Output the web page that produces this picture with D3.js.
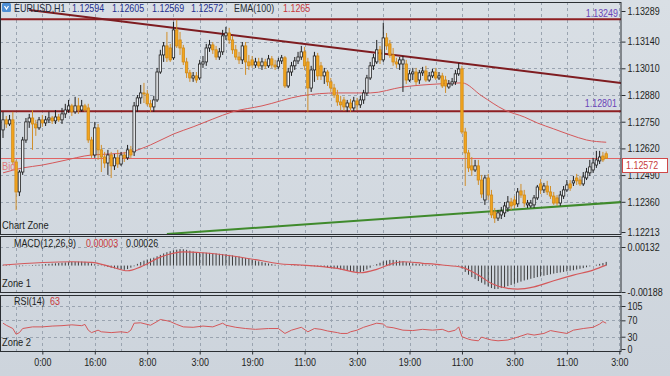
<!DOCTYPE html>
<html>
<head>
<meta charset="utf-8">
<script src="https://cdn.jsdelivr.net/npm/d3@7"></script>
<style>
  body { margin: 0; background: #d2d8df; }
  svg text { font-family: "Liberation Sans", Arial, sans-serif; }
</style>
</head>
<body>
<div id="chart"></div>
<script>
// EURUSD H1 candles (oldest first)
const opens = [
  1.12710,1.12759,1.12739,1.12759,1.12554,1.12408,1.12505,1.12661,1.12749,1.12768,
  1.12739,1.12720,1.12759,1.12744,1.12759,1.12768,1.12754,1.12773,1.12759,1.12788,
  1.12807,1.12827,1.12798,1.12827,1.12807,1.12827,1.12817,1.12661,1.12588,1.12720,
  1.12613,1.12578,1.12549,1.12588,1.12535,1.12574,1.12544,1.12588,1.12574,1.12613,
  1.12603,1.12827,1.12866,1.12890,1.12885,1.12837,1.12822,1.12856,1.12992,1.13075,
  1.13119,1.13109,1.13061,1.13197,1.13148,1.13109,1.13041,1.12988,1.12963,1.12973,
  1.12963,1.13031,1.13041,1.13109,1.13124,1.13100,1.13065,1.13090,1.13168,1.13182,
  1.13148,1.13100,1.13065,1.13051,1.13119,1.13041,1.13051,1.13026,1.13041,1.13022,
  1.13041,1.13022,1.13056,1.13026,1.13017,1.13046,1.13061,1.12924,1.12992,1.13022,
  1.13046,1.13065,1.13090,1.13041,1.12914,1.13002,1.13070,1.13022,1.12973,1.12992,
  1.12944,1.12914,1.12880,1.12846,1.12856,1.12822,1.12841,1.12817,1.12851,1.12832,
  1.12856,1.12890,1.12963,1.13022,1.13041,1.13100,1.13051,1.13158,1.13129,1.13075,
  1.13041,1.13031,1.13031,1.13031,1.12953,1.12983,1.12992,1.12953,1.12988,1.12997,
  1.12953,1.12973,1.12992,1.12963,1.12973,1.12953,1.12919,1.12934,1.12944,1.12983,
  1.13007,1.12700,1.12598,1.12535,1.12515,1.12535,1.12466,1.12369,1.12476,1.12393,
  1.12311,1.12281,1.12296,1.12306,1.12330,1.12359,1.12369,1.12350,1.12413,1.12393,
  1.12345,1.12340,1.12345,1.12379,1.12447,1.12418,1.12437,1.12408,1.12388,1.12379,
  1.12354,1.12388,1.12418,1.12447,1.12452,1.12476,1.12466,1.12447,1.12476,1.12501,
  1.12515,1.12539,1.12559,1.12583,1.12594
];
const highs = [
  1.12798,1.12778,1.12783,1.12798,1.12564,1.12515,1.12676,1.12768,1.12788,1.12807,
  1.12759,1.12773,1.12783,1.12778,1.12798,1.12778,1.12807,1.12788,1.12817,1.12837,
  1.12856,1.12837,1.12871,1.12866,1.12856,1.12837,1.12837,1.12676,1.12749,1.12739,
  1.12637,1.12603,1.12613,1.12603,1.12593,1.12613,1.12603,1.12603,1.12637,1.12632,
  1.12846,1.12880,1.12929,1.12939,1.12905,1.12856,1.12876,1.13012,1.13100,1.13138,
  1.13187,1.13129,1.13236,1.13246,1.13187,1.13124,1.13061,1.13002,1.12992,1.12992,
  1.13051,1.13070,1.13129,1.13148,1.13138,1.13119,1.13109,1.13197,1.13212,1.13207,
  1.13168,1.13124,1.13090,1.13138,1.13138,1.13075,1.13070,1.13061,1.13061,1.13061,
  1.13056,1.13075,1.13070,1.13051,1.13061,1.13075,1.13070,1.13012,1.13041,1.13065,
  1.13090,1.13119,1.13114,1.13061,1.13022,1.13090,1.13085,1.13041,1.13012,1.13002,
  1.12963,1.12934,1.12905,1.12876,1.12871,1.12856,1.12861,1.12871,1.12866,1.12876,
  1.12905,1.12978,1.13041,1.13080,1.13148,1.13119,1.13231,1.13182,1.13148,1.13109,
  1.13061,1.13065,1.13070,1.13051,1.13002,1.13012,1.13012,1.13002,1.13017,1.13022,
  1.12992,1.13007,1.13012,1.12992,1.12988,1.12973,1.12953,1.12963,1.13002,1.13036,
  1.13022,1.12720,1.12613,1.12578,1.12564,1.12564,1.12491,1.12491,1.12496,1.12418,
  1.12330,1.12320,1.12335,1.12359,1.12388,1.12379,1.12388,1.12427,1.12447,1.12418,
  1.12369,1.12369,1.12393,1.12442,1.12471,1.12452,1.12462,1.12437,1.12408,1.12393,
  1.12413,1.12437,1.12466,1.12466,1.12486,1.12496,1.12486,1.12505,1.12525,1.12564,
  1.12574,1.12608,1.12608,1.12603,1.12605
];
const lows = [
  1.12671,1.12720,1.12729,1.12539,1.12320,1.12388,1.12491,1.12647,1.12720,1.12613,
  1.12681,1.12710,1.12725,1.12729,1.12744,1.12739,1.12739,1.12749,1.12739,1.12768,
  1.12793,1.12778,1.12788,1.12788,1.12798,1.12798,1.12647,1.12574,1.12574,1.12564,
  1.12505,1.12525,1.12491,1.12476,1.12515,1.12525,1.12535,1.12554,1.12564,1.12574,
  1.12583,1.12798,1.12837,1.12841,1.12827,1.12798,1.12798,1.12846,1.12983,1.13041,
  1.13041,1.13041,1.13051,1.13109,1.13075,1.13026,1.12963,1.12944,1.12944,1.12939,
  1.12953,1.13012,1.13022,1.13090,1.13080,1.13051,1.13051,1.13075,1.13148,1.13129,
  1.13080,1.13051,1.13031,1.13031,1.12978,1.13002,1.13012,1.13012,1.13012,1.13002,
  1.13007,1.13012,1.13012,1.13002,1.13007,1.13031,1.12914,1.12914,1.12973,1.13002,
  1.13031,1.13051,1.13002,1.12798,1.12895,1.12944,1.12953,1.12953,1.12934,1.12924,
  1.12895,1.12866,1.12827,1.12807,1.12802,1.12798,1.12798,1.12802,1.12807,1.12817,
  1.12837,1.12876,1.12953,1.13002,1.13031,1.13031,1.13041,1.13100,1.13061,1.13022,
  1.13012,1.13002,1.12895,1.12934,1.12944,1.12953,1.12929,1.12934,1.12973,1.12944,
  1.12944,1.12963,1.12953,1.12953,1.12914,1.12890,1.12910,1.12924,1.12929,1.12973,
  1.12690,1.12437,1.12505,1.12486,1.12505,1.12442,1.12379,1.12345,1.12369,1.12281,
  1.12257,1.12267,1.12276,1.12286,1.12311,1.12320,1.12330,1.12335,1.12379,1.12335,
  1.12330,1.12330,1.12330,1.12369,1.12398,1.12403,1.12393,1.12374,1.12345,1.12340,
  1.12340,1.12374,1.12408,1.12413,1.12437,1.12442,1.12437,1.12437,1.12466,1.12486,
  1.12501,1.12525,1.12544,1.12554,1.12569
];
const closes = [
  1.12759,1.12739,1.12759,1.12554,1.12408,1.12505,1.12661,1.12749,1.12768,1.12739,
  1.12720,1.12759,1.12744,1.12759,1.12768,1.12754,1.12773,1.12759,1.12788,1.12807,
  1.12827,1.12798,1.12827,1.12807,1.12827,1.12807,1.12661,1.12588,1.12720,1.12613,
  1.12578,1.12549,1.12588,1.12535,1.12574,1.12544,1.12588,1.12574,1.12613,1.12588,
  1.12827,1.12866,1.12890,1.12885,1.12837,1.12822,1.12856,1.12992,1.13075,1.13119,
  1.13061,1.13051,1.13197,1.13119,1.13109,1.13041,1.12988,1.12963,1.12973,1.12953,
  1.13031,1.13041,1.13109,1.13124,1.13100,1.13065,1.13090,1.13168,1.13182,1.13148,
  1.13100,1.13065,1.13051,1.13119,1.13041,1.13022,1.13026,1.13041,1.13022,1.13041,
  1.13022,1.13056,1.13026,1.13017,1.13046,1.13061,1.12924,1.12992,1.13022,1.13046,
  1.13065,1.13090,1.13022,1.12914,1.13002,1.13070,1.12973,1.12973,1.12992,1.12944,
  1.12914,1.12880,1.12846,1.12832,1.12822,1.12841,1.12817,1.12851,1.12832,1.12856,
  1.12890,1.12963,1.13022,1.13061,1.13100,1.13051,1.13158,1.13119,1.13075,1.13041,
  1.13031,1.13051,1.13051,1.12953,1.12983,1.12992,1.12944,1.12988,1.12997,1.12953,
  1.12973,1.12992,1.12963,1.12973,1.12924,1.12924,1.12934,1.12944,1.12983,1.13007,
  1.12700,1.12598,1.12525,1.12515,1.12535,1.12466,1.12398,1.12476,1.12393,1.12296,
  1.12281,1.12306,1.12315,1.12340,1.12359,1.12340,1.12345,1.12408,1.12393,1.12354,
  1.12354,1.12354,1.12379,1.12432,1.12418,1.12437,1.12408,1.12388,1.12354,1.12354,
  1.12393,1.12418,1.12442,1.12427,1.12462,1.12462,1.12447,1.12481,1.12505,1.12530,
  1.12549,1.12564,1.12578,1.12564,1.12572
];

// EMA(100), read at selected bars
const emaBars = [0,6,12,18,27,33,39,45,52,58,64,70,79,91,102,112,122,133,140,146,153,159,163,168,173,178,184];
const emaValues = [1.12501,1.12525,1.12539,1.12559,1.12588,1.12593,1.12603,1.12637,1.12690,1.12725,1.12763,1.12798,
  1.12827,1.12876,1.12890,1.12890,1.12919,1.12934,1.12939,1.12876,1.12807,1.12773,1.12744,1.12715,1.12686,1.12661,1.12650];

// MACD(12,26,9) histogram, one per bar
const macdHist = [
  0.00005,0.00004,0.00002,0.00000,-0.00004,-0.00006,-0.00004,-0.00002,0.00002,0.00004,
  0.00005,0.00006,0.00008,0.00010,0.00012,0.00014,0.00016,0.00018,0.00020,0.00022,
  0.00024,0.00026,0.00027,0.00028,0.00028,0.00027,0.00022,0.00015,0.00010,0.00006,
  0.00002,-0.00005,-0.00010,-0.00015,-0.00020,-0.00024,-0.00028,-0.00030,-0.00025,-0.00015,
  -0.00005,0.00012,0.00025,0.00035,0.00043,0.00050,0.00056,0.00066,0.00076,0.00086,
  0.00095,0.00102,0.00108,0.00113,0.00117,0.00116,0.00112,0.00106,0.00100,0.00096,
  0.00094,0.00092,0.00091,0.00090,0.00088,0.00086,0.00084,0.00082,0.00080,0.00076,
  0.00072,0.00068,0.00064,0.00060,0.00054,0.00048,0.00042,0.00036,0.00030,0.00025,
  0.00020,0.00015,0.00010,0.00006,0.00003,0.00001,-0.00002,0.00000,0.00002,0.00003,
  0.00004,0.00004,0.00003,-0.00002,-0.00004,-0.00005,-0.00006,-0.00008,-0.00010,-0.00013,
  -0.00017,-0.00020,-0.00024,-0.00028,-0.00032,-0.00036,-0.00040,-0.00044,-0.00050,-0.00048,
  -0.00040,-0.00028,-0.00015,-0.00002,0.00010,0.00020,0.00030,0.00036,0.00040,0.00040,
  0.00038,0.00034,0.00030,0.00024,0.00020,0.00016,0.00012,0.00010,0.00008,0.00006,
  0.00005,0.00004,0.00003,0.00002,0.00000,-0.00002,-0.00002,-0.00001,0.00001,0.00003,
  -0.00020,-0.00045,-0.00065,-0.00082,-0.00096,-0.00110,-0.00122,-0.00135,-0.00148,-0.00160,
  -0.00167,-0.00166,-0.00160,-0.00153,-0.00146,-0.00138,-0.00130,-0.00122,-0.00114,-0.00106,
  -0.00100,-0.00094,-0.00088,-0.00082,-0.00077,-0.00072,-0.00067,-0.00062,-0.00057,-0.00053,
  -0.00049,-0.00045,-0.00041,-0.00037,-0.00033,-0.00028,-0.00023,-0.00018,-0.00012,-0.00006,
  0.00000,0.00006,0.00012,0.00018,0.00026
];
// MACD signal line, read at selected bars
const signalBars = [0,21,27,33,38,42,48,55,61,70,79,85,91,102,109,114,119,122,128,134,140,145,149,154,157,162,168,174,180,184];
const signalValues = [0.00004,0.00027,0.00023,-0.00009,-0.00037,-0.00009,0.00060,0.00098,0.00091,0.00068,0.00034,0.00011,
  0.00004,-0.00020,-0.00051,-0.00027,0.00016,0.00027,0.00016,0.00004,-0.00013,-0.00068,-0.00127,-0.00162,-0.00167,
  -0.00151,-0.00108,-0.00068,-0.00032,0.00003];

// RSI(14), read at selected bars
const rsiBars = [0,1,3,4,5,6,9,12,15,18,21,24,25,26,27,29,30,33,36,38,39,40,42,45,47,48,50,51,53,55,
  58,61,64,67,68,71,74,77,81,84,86,88,91,93,95,97,99,102,103,105,106,108,110,112,114,116,117,119,122,125,
  128,131,134,136,138,139,140,142,143,145,146,148,149,151,154,157,160,162,165,167,169,172,174,177,180,182,183,184];
const rsiValues = [63,58,50,36,40,50,54,54,56,57,59,57,60,46,40,46,42,40,42,40,46,63,64,58,67,72,69,67,60,54,
  53,56,54,63,58,53,50,48,50,50,38,46,53,42,50,48,44,40,38,38,42,46,53,58,63,61,54,52,46,45,
  48,46,48,42,46,54,30,24,22,20,29,24,22,20,22,29,37,34,38,45,42,38,46,50,53,61,67,63];

// axis ticks and labels
const priceTicks = [1.13289,1.13140,1.13010,1.12880,1.12750,1.12620,1.12490,1.12360,1.12213];
const macdTicks = [0.00132,-0.00188];
const rsiTicks = [105,70,30,0];
const timeBars = [12,28,44,60,76,92,108,124,140,156,172,188];
const timeLabels = ["0:00","16:00","8:00","3:00","19:00","11:00","3:00","19:00","11:00","3:00","11:00","3:00"];

// drawn objects
const levelPrices = [1.13249, 1.12801];
const bidPrice = 1.12572;
const resistBars = [8, 189], resistPrices = [1.13294, 1.12938];
const supportBars = [50, 189], supportPrices = [1.12203, 1.12359];

const W = 670, H = 376, plotR = 621;
const squeeze = 0.85; // the screenshot's text is horizontally condensed
const x = d3.scaleLinear().domain([0, 184]).range([3, 606.2]);

const main = { top: 2, bottom: 234 };
const macdPane = { top: 236, bottom: 292 };
const rsiPane = { top: 295, bottom: 351 };

const yP = d3.scaleLinear().domain([1.12213, 1.13289]).range([232, 11]);
const yM = d3.scaleLinear().domain([-0.00188, 0.00132]).range([292, 247]);
const yR = d3.scaleLinear().domain([0, 105]).range([349, 306]);

const svg = d3.select("#chart").append("svg").attr("width", W).attr("height", H);

const defs = svg.append("defs");
const grad = defs.append("linearGradient").attr("id", "bg").attr("x1", 0).attr("y1", 0).attr("x2", 0).attr("y2", 1);
grad.append("stop").attr("offset", "0%").attr("stop-color", "#d9dfe5");
grad.append("stop").attr("offset", "100%").attr("stop-color", "#cdd4dc");
svg.append("rect").attr("width", W).attr("height", H).attr("fill", "url(#bg)");

[main, macdPane, rsiPane].forEach((p, k) => {
  defs.append("clipPath").attr("id", "clip" + k)
    .append("rect").attr("x", 0).attr("y", p.top).attr("width", plotR).attr("height", p.bottom - p.top);
  p.clip = "url(#clip" + k + ")";
});

// grid
const gridBars = d3.range(4, 189, 8);
[main, macdPane, rsiPane].forEach(p => {
  svg.append("g").attr("clip-path", p.clip).selectAll("line").data(gridBars).join("line")
    .attr("x1", d => Math.round(x(d)) + 0.5).attr("x2", d => Math.round(x(d)) + 0.5)
    .attr("y1", p.top).attr("y2", p.bottom)
    .attr("stroke", "#9aa4b0").attr("stroke-dasharray", "3,3");
});
function hGrid(vals, scale, p) {
  svg.append("g").attr("clip-path", p.clip).selectAll("line").data(vals).join("line")
    .attr("x1", 0).attr("x2", plotR)
    .attr("y1", d => Math.round(scale(d)) + 0.5).attr("y2", d => Math.round(scale(d)) + 0.5)
    .attr("stroke", "#9aa4b0").attr("stroke-dasharray", "3,3");
}
hGrid(priceTicks.slice(1, -1), yP, main);
hGrid([0.00132], yM, macdPane);
hGrid([105, 70, 30], yR, rsiPane);

// main pane
const gMain = svg.append("g").attr("clip-path", main.clip);

gMain.selectAll(".level").data(levelPrices).join("line")
  .attr("x1", 0).attr("x2", plotR)
  .attr("y1", d => yP(d)).attr("y2", d => yP(d))
  .attr("stroke", "#8e1f22").attr("stroke-width", 2);

gMain.append("line")
  .attr("x1", x(resistBars[0])).attr("y1", yP(resistPrices[0]))
  .attr("x2", x(resistBars[1])).attr("y2", yP(resistPrices[1]))
  .attr("stroke", "#7e1c20").attr("stroke-width", 2);
gMain.append("line")
  .attr("x1", x(supportBars[0])).attr("y1", yP(supportPrices[0]))
  .attr("x2", x(supportBars[1])).attr("y2", yP(supportPrices[1]))
  .attr("stroke", "#3f8a2c").attr("stroke-width", 2);

gMain.append("line")
  .attr("x1", 0).attr("x2", plotR)
  .attr("y1", Math.round(yP(bidPrice)) + 0.5).attr("y2", Math.round(yP(bidPrice)) + 0.5)
  .attr("stroke", "#e06464");

gMain.append("path")
  .datum(emaBars.map((b, i) => [b, emaValues[i]]))
  .attr("fill", "none").attr("stroke", "#d4585a").attr("stroke-width", 1)
  .attr("d", d3.line().x(d => x(d[0])).y(d => yP(d[1])).curve(d3.curveMonotoneX));

const bars = closes.map((c, i) => ({ i, o: opens[i], h: highs[i], l: lows[i], c }));
const candles = gMain.selectAll(".candle").data(bars).join("g");
candles.append("line")
  .attr("x1", d => x(d.i)).attr("x2", d => x(d.i))
  .attr("y1", d => yP(d.h)).attr("y2", d => yP(d.l))
  .attr("stroke", d => d.c >= d.o ? "#1e1e1e" : "#d08e2a").attr("stroke-width", 1);
candles.append("rect")
  .attr("x", d => x(d.i) - 1.2).attr("width", 2.4)
  .attr("y", d => yP(Math.max(d.o, d.c)))
  .attr("height", d => Math.max(1, Math.abs(yP(d.o) - yP(d.c))))
  .attr("fill", d => d.c >= d.o ? "#eef1f4" : "#f2a51e")
  .attr("stroke", d => d.c >= d.o ? "#1e1e1e" : "#d18a17").attr("stroke-width", 0.8);

// MACD pane
const gMacd = svg.append("g").attr("clip-path", macdPane.clip);
gMacd.selectAll("line").data(macdHist).join("line")
  .attr("x1", (d, i) => x(i)).attr("x2", (d, i) => x(i))
  .attr("y1", yM(0)).attr("y2", d => yM(d))
  .attr("stroke", "#2a2a2a").attr("stroke-width", 0.9);
gMacd.append("path")
  .datum(signalBars.map((b, i) => [b, signalValues[i]]))
  .attr("fill", "none").attr("stroke", "#d4585a").attr("stroke-width", 1.2)
  .attr("d", d3.line().x(d => x(d[0])).y(d => yM(d[1])).curve(d3.curveMonotoneX));

// RSI pane
svg.append("g").attr("clip-path", rsiPane.clip).append("path")
  .datum(rsiBars.map((b, i) => [b, rsiValues[i]]))
  .attr("fill", "none").attr("stroke", "#d4585a").attr("stroke-width", 1)
  .attr("d", d3.line().x(d => x(d[0])).y(d => yR(d[1])));

// pane frames
[main, macdPane, rsiPane].forEach(p => {
  svg.append("rect").attr("x", 0.5).attr("y", p.top + 0.5)
    .attr("width", plotR - 0.5).attr("height", p.bottom - p.top)
    .attr("fill", "none").attr("stroke", "#2b2f33");
});

// right axes
function rightAxis(scale, ticks, fmt) {
  const g = svg.append("g").attr("transform", `translate(${plotR + 0.5},0)`)
    .call(d3.axisRight(scale).tickValues(ticks).tickFormat(fmt).tickSize(4).tickPadding(2));
  g.select(".domain").remove();
  g.selectAll("line").attr("stroke", "#2b2f33");
  g.selectAll("text").attr("fill", "#1d1f22").style("font-size", "10.5px");
  return g;
}
rightAxis(yP, priceTicks, d3.format(".5f"));
rightAxis(yM, macdTicks, d => d < 0 ? "-" + d3.format(".5f")(-d) : d3.format(".5f")(d));
rightAxis(yR, rsiTicks, d3.format("d"));

// time axis
const gx = svg.append("g").attr("transform", `translate(0,${rsiPane.bottom + 0.5})`)
  .call(d3.axisBottom(x).tickValues(timeBars).tickFormat((d, i) => timeLabels[i]).tickSize(3).tickPadding(4));
gx.select(".domain").remove();
gx.selectAll("line").attr("stroke", "#2b2f33");
gx.selectAll("text").attr("fill", "#1d1f22").style("font-size", "10.5px");

// price labels on the right
svg.append("text").attr("x", 618).attr("y", 17).attr("text-anchor", "end")
  .attr("fill", "#6a45b8").style("font-size", "10.5px").text(d3.format(".5f")(levelPrices[0]));
svg.append("text").attr("x", 617).attr("y", 107).attr("text-anchor", "end")
  .attr("fill", "#6a45b8").style("font-size", "10.5px").text(d3.format(".5f")(levelPrices[1]));
const bidY = Math.round(yP(bidPrice));
svg.append("rect").attr("x", 622.5).attr("y", bidY + 0.5).attr("width", 45).attr("height", 14)
  .attr("fill", "#ffffff").attr("stroke", "#d04848");
svg.append("text").attr("x", 626).attr("y", bidY + 11.5)
  .attr("fill", "#c83c3c").style("font-size", "10.5px").text(d3.format(".5f")(bidPrice));

// labels
const t = (xx, yy, s, c, fs) => svg.append("text").attr("x", xx).attr("y", yy).attr("fill", c)
  .style("font-size", (fs || 10.5) + "px").text(s);

svg.append("rect").attr("x", 2).attr("y", 3).attr("width", 9).attr("height", 9).attr("rx", 1.5).attr("fill", "#4c8fd6");
svg.append("path").attr("d", "M4.5,6 L6.5,9 L8.5,6").attr("fill", "none").attr("stroke", "#fff").attr("stroke-width", 1.3);
t(14, 12, "EURUSD,H1", "#1d2a3a");
t(72, 12, d3.format(".5f")(opens[184]), "#1f2f8f");
t(112, 12, d3.format(".5f")(highs[184]), "#1f2f8f");
t(152, 12, d3.format(".5f")(lows[184]), "#1f2f8f");
t(191, 12, d3.format(".5f")(closes[184]), "#1f2f8f");
t(234, 12, "EMA(100)", "#2a2f36");
t(283, 12, d3.format(".4f")(emaValues[emaValues.length - 1]), "#c8383a");

t(2, 170, "Bid", "#e07a7a", 11);
t(2, 229, "Chart Zone", "#1d1f22", 11);

t(14, 247, "MACD(12,26,9)", "#1d1f22");
t(86, 247, d3.format(".5f")(signalValues[signalValues.length - 1]), "#c8383a");
t(126, 247, d3.format(".5f")(macdHist[macdHist.length - 1]), "#1d1f22");
t(2, 287, "Zone 1", "#1d1f22", 11);

t(14, 305, "RSI(14)", "#1d1f22");
t(50, 305, String(rsiValues[rsiValues.length - 1]), "#c8383a");
t(2, 346, "Zone 2", "#1d1f22", 11);

// condense every label horizontally about its anchor point
svg.selectAll("text").each(function () {
  const ax = +(this.getAttribute("x") || 0);
  this.setAttribute("transform", `translate(${ax},0) scale(${squeeze},1) translate(${-ax},0)`);
});
</script>
</body>
</html>
